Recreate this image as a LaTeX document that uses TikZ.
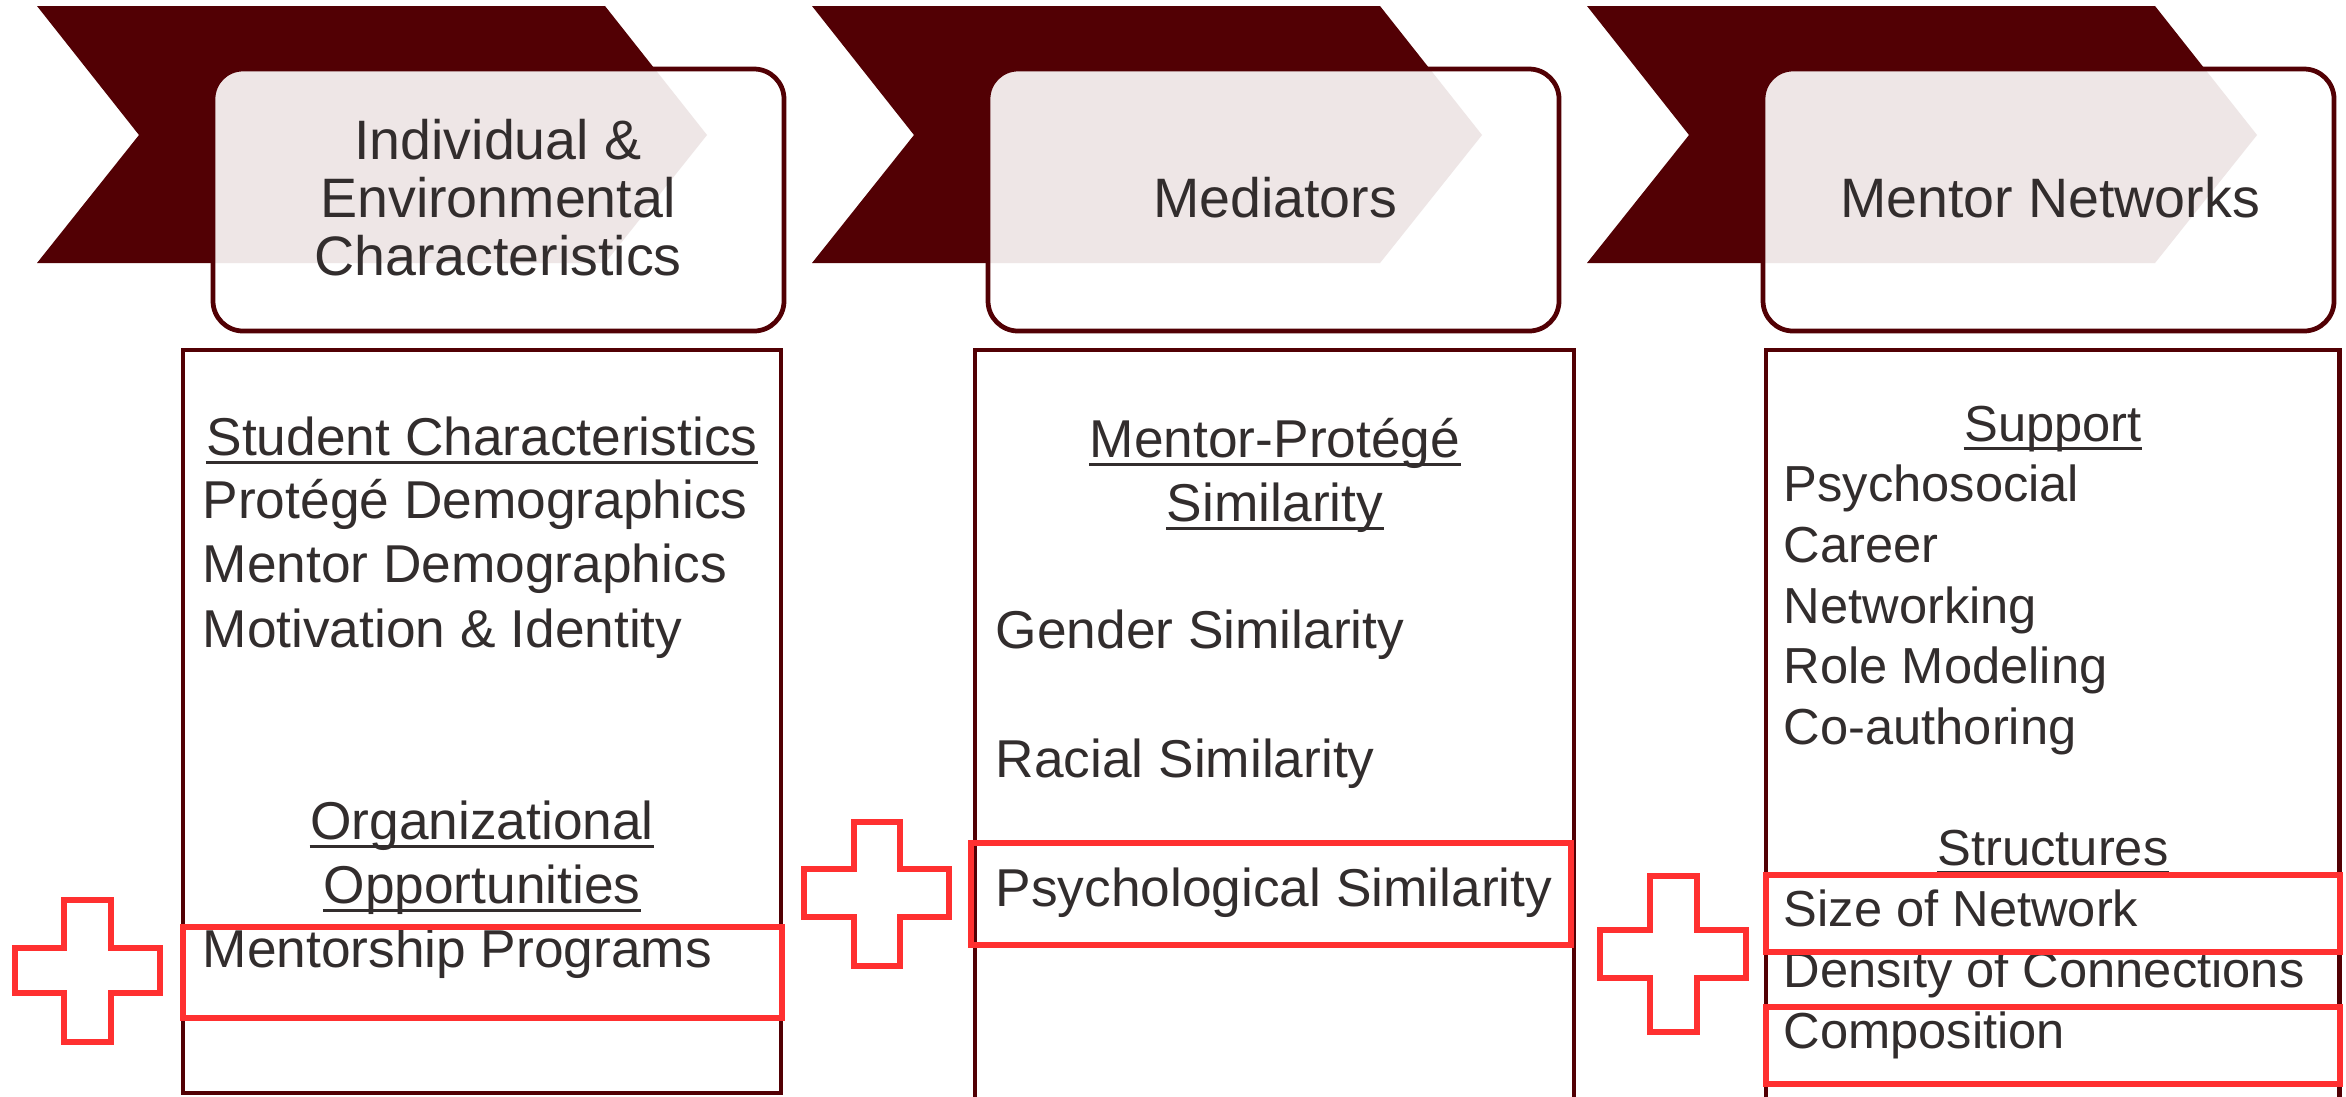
\documentclass[tikz,border=0pt]{standalone}
\usepackage{fontspec}
\setmainfont{Liberation Sans}
\definecolor{maroon}{RGB}{82,0,4}
\definecolor{txt}{RGB}{50,45,45}
\definecolor{hl}{RGB}{255,48,48}
\begin{document}
\begin{tikzpicture}[x=0.01cm,y=-0.01cm,
  chev/.style={fill=maroon},
  hbox/.style={draw=maroon,line width=1.35pt,fill=white,fill opacity=0.9,rounded corners=0.3cm},
  tbox/.style={draw=maroon,line width=1.4pt},
  hilite/.style={draw=hl,line width=1.45pt},
  plusmark/.style={draw=hl,line width=1.45pt},
  htext/.style={text=txt,inner sep=0pt,anchor=base,font=\fontsize{15.8pt}{16.5pt}\selectfont},
  btext/.style={text=txt,inner sep=0pt,anchor=base west,font=\fontsize{15.15pt}{18pt}\selectfont},
  bhead/.style={btext,anchor=base},
  ctext/.style={text=txt,inner sep=0pt,anchor=base west,font=\fontsize{14.4pt}{17pt}\selectfont},
  chead/.style={ctext,anchor=base},
  uline/.style={draw=txt,line width=0.75pt},
]
\path[use as bounding box] (0,0) rectangle (2346,1096);
\fill[white] (0,0) rectangle (2346,1096);
\clip (0,0) rectangle (2346,1096);

% chevrons and header boxes
\foreach \k in {0,1,2}{
  \pgfmathsetmacro\dx{775*\k}
  \fill[chev] (37+\dx,6) -- (605+\dx,6) -- (707+\dx,135) -- (605+\dx,263) -- (37+\dx,263) -- (139+\dx,135) -- cycle;
  \path[hbox] (213+\dx,69) rectangle (784+\dx,331);
}

% header texts
\node[htext] (h1a) at (498,159) {Individual \&};
\node[htext] (h1b) at (498,217) {Environmental};
\node[htext] (h1c) at (498,275) {Characteristics};
\node[htext] (h2) at (1275,217) {Mediators};
\node[htext] (h3) at (2050,217) {Mentor Networks};

% text boxes
\draw[tbox] (183,350) rectangle (781,1093);
\draw[tbox] (975,350) rectangle (1574,1130);
\draw[tbox] (1766,350) rectangle (2339,1130);

% column 1
\node[bhead] (sc) at (482,455) {Student Characteristics};
\node[btext] (pd) at (202,518) {Protégé Demographics};
\node[btext] (md) at (202,582) {Mentor Demographics};
\node[btext] (mi) at (202,647) {Motivation \& Identity};
\node[bhead] (org) at (482,839) {Organizational};
\node[bhead] (opp) at (482,903) {Opportunities};
\node[btext] (mp) at (202,967) {Mentorship Programs};

% column 2
\node[bhead] (mps) at (1275,457) {Mentor-Protégé};
\node[bhead] (sim) at (1275,521) {Similarity};
\node[btext] (gs) at (995,648) {Gender Similarity};
\node[btext] (rs) at (995,777) {Racial Similarity};
\node[btext] (ps) at (995,906) {Psychological Similarity};

% column 3
\node[chead] (sup) at (2053,441) {Support};
\node[ctext] (psy) at (1783,501) {Psychosocial};
\node[ctext] (car) at (1783,562) {Career};
\node[ctext] (net) at (1783,623) {Networking};
\node[ctext] (rol) at (1783,683) {Role Modeling};
\node[ctext] (coa) at (1783,744) {Co-authoring};
\node[chead] (str) at (2053,865) {Structures};
\node[ctext] (son) at (1783,926) {Size of Network};
\node[ctext] (doc) at (1783,987) {Density of Connections};
\node[ctext] (com) at (1783,1048) {Composition};

% underlines
\foreach \n in {sc,org,opp,mps,sim,sup,str}{
  \draw[uline] ([yshift=-0.075cm]\n.base west) -- ([yshift=-0.075cm]\n.base east);
}

% highlight rectangles
\draw[hilite] (183,927) rectangle (782,1018);
\draw[hilite] (971,843) rectangle (1571,945);
\draw[hilite] (1766,875) rectangle (2340,952);
\draw[hilite] (1766,1007) rectangle (2340,1084);

% plus marks
\draw[plusmark] (64,900) -- (111,900) -- (111,948) -- (160,948) -- (160,993) -- (111,993) -- (111,1042) -- (64,1042) -- (64,993) -- (15,993) -- (15,948) -- (64,948) -- cycle;
\draw[plusmark] (854,822) -- (900,822) -- (900,869) -- (949,869) -- (949,917) -- (900,917) -- (900,966) -- (854,966) -- (854,917) -- (804,917) -- (804,869) -- (854,869) -- cycle;
\draw[plusmark] (1650,876) -- (1697,876) -- (1697,930) -- (1746,930) -- (1746,978) -- (1697,978) -- (1697,1032) -- (1650,1032) -- (1650,978) -- (1600,978) -- (1600,930) -- (1650,930) -- cycle;
\end{tikzpicture}
\end{document}
